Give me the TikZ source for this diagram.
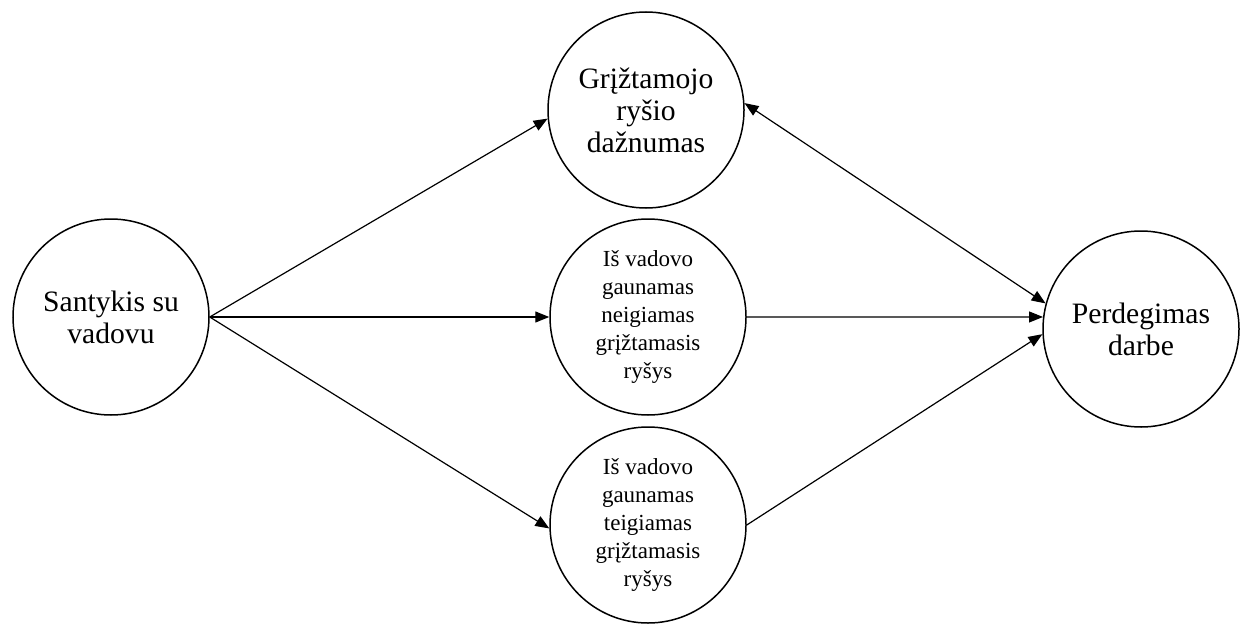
\documentclass[tikz,border=0pt]{standalone}
\usepackage{fontspec}
\setmainfont{Liberation Serif}
\usetikzlibrary{arrows.meta}
\tikzset{
  bigcircle/.style={draw, circle, line width=0.75pt, minimum size=98pt, inner sep=0pt, align=center,
    font=\fontsize{14.8}{16}\selectfont},
  smallcircle/.style={bigcircle, font=\fontsize{11.5}{14}\selectfont},
  tip/.tip={Triangle[length=7pt,width=5.5pt]},
  link/.style={line width=0.6pt, -tip}
}
\begin{document}
\begin{tikzpicture}[x=0.5pt, y=-0.5pt]
    \useasboundingbox (0,0) rectangle (1251,626);
    \node[bigcircle] (santykis) at (111,317) {Santykis su\\vadovu};
    \node[bigcircle] (daznumas) at (646,110) {Grįžtamojo\\ryšio\\dažnumas};
    \node[smallcircle] (neig) at (648,317) {Iš vadovo\\gaunamas\\neigiamas\\grįžtamasis\\ryšys};
    \node[smallcircle] (teig) at (648,525) {Iš vadovo\\gaunamas\\teigiamas\\grįžtamasis\\ryšys};
    \node[bigcircle] (perdeg) at (1141,329) {Perdegimas\\darbe};
    \draw[link] (santykis.east) to (daznumas.185);
    \draw[link] (santykis.east) to (neig.west);
    \draw[link] (santykis.east) to (teig.182);
    \draw[link, tip-tip] (daznumas.4) to (perdeg.165.5);
    \draw[link] (neig.east) to (perdeg.173.5);
    \draw[link] (teig.east) to (perdeg.183.5);
  \end{tikzpicture}
\end{document}
